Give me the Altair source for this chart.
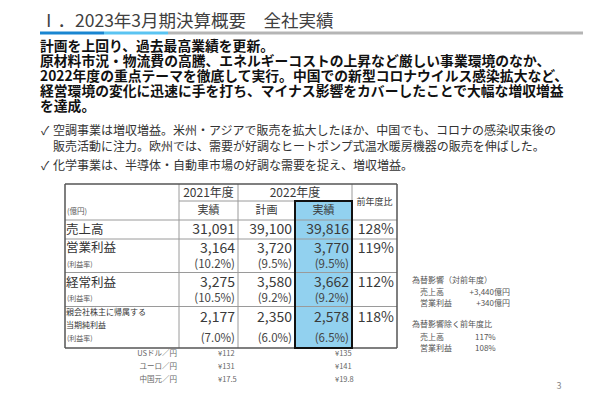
import altair as alt
import pandas as pd

# ---------------- data ----------------
title_text = "Ⅰ．2023年3月期決算概要　全社実績"
summary_lines = [
    "計画を上回り、過去最高業績を更新。",
    "原材料市況・物流費の高騰、エネルギーコストの上昇など厳しい事業環境のなか、",
    "2022年度の重点テーマを徹底して実行。中国での新型コロナウイルス感染拡大など、",
    "経営環境の変化に迅速に手を打ち、マイナス影響をカバーしたことで大幅な増収増益",
    "を達成。",
]
bullet_1 = [
    "空調事業は増収増益。米州・アジアで販売を拡大したほか、中国でも、コロナの感染収束後の",
    "販売活動に注力。欧州では、需要が好調なヒートポンプ式温水暖房機器の販売を伸ばした。",
]
bullet_2 = ["化学事業は、半導体・自動車市場の好調な需要を捉え、増収増益。"]

header_years = ["2021年度", "2022年度"]
header_sub = ["実績", "計画", "実績"]
header_yoy = "前年度比"
unit_label = "(億円)"
metric_labels = [["売上高"], ["営業利益"], ["経常利益"], ["親会社株主に帰属する", "当期純利益"]]
fy2021_actual = [31091, 3164, 3275, 2177]
fy2022_plan = [39100, 3720, 3580, 2350]
fy2022_actual = [39816, 3770, 3662, 2578]
yoy_ratio = ["128%", "119%", "112%", "118%"]
margin_label = "(利益率)"
margin_2021 = ["(10.2%)", "(10.5%)", "(7.0%)"]
margin_plan = ["(9.5%)", "(9.2%)", "(6.0%)"]
margin_actual = ["(9.5%)", "(9.2%)", "(6.5%)"]

fx_labels = ["USドル／円", "ユーロ／円", "中国元／円"]
fx_2021 = ["¥112", "¥131", "¥17.5"]
fx_2022 = ["¥135", "¥141", "¥19.8"]

fx_note_title = "為替影響（対前年度）"
fx_note_items = ["売上高", "営業利益"]
fx_note_values = ["+3,440億円", "+340億円"]
exfx_title = "為替影響除く前年度比"
exfx_values = ["117%", "108%"]
page_no = "3"

# ---------------- layout ----------------
FONT = "Noto Sans CJK JP"
W, H = 584, 384
xs = alt.Scale(domain=[8, 8 + W], nice=False, zero=False)
ys = alt.Scale(domain=[8, 8 + H], nice=False, zero=False, reverse=True)

COL = [65, 179, 238, 295, 352, 397]
ROW = [184, 201, 220, 239, 272.5, 306.5, 348]

texts = []


def add(x, y, t, size, color, weight="normal", align="left"):
    texts.append(dict(x=x, y=y, text=t, size=size, color=color, weight=weight, align=align))


# title
add(40, 21.5, title_text, 17.5, "#404040")
# summary paragraph
for i, s in enumerate(summary_lines):
    add(40, 46.5 + 15 * i, s, 13.8, "#111111", weight="bold")
# bullets
add(41, 131, "✓", 12, "#333333")
for i, s in enumerate(bullet_1):
    add(53, 131 + 16 * i, s, 12, "#333333")
add(41, 166, "✓", 12, "#333333")
add(53, 166, bullet_2[0], 12, "#333333")

# table header
add((COL[1] + COL[2]) / 2, (ROW[0] + ROW[1]) / 2, header_years[0], 12, "#3a3a3a", align="center")
add((COL[2] + COL[4]) / 2, (ROW[0] + ROW[1]) / 2, header_years[1], 12, "#3a3a3a", align="center")
for j, s in enumerate(header_sub):
    add((COL[1 + j] + COL[2 + j]) / 2, (ROW[1] + ROW[2]) / 2, s, 11, "#3a3a3a", align="center")
add((COL[4] + COL[5]) / 2, (ROW[0] + ROW[2]) / 2, header_yoy, 9, "#3a3a3a", align="center")
add(COL[0] + 2, (ROW[1] + ROW[2]) / 2 + 1, unit_label, 7.5, "#555555")

# table body
num_y = [(ROW[2] + ROW[3]) / 2, ROW[3] + 10, ROW[4] + 10, ROW[5] + 11]
mar_y = [None, ROW[4] - 8, ROW[5] - 8, ROW[6] - 9]
for i, lab in enumerate(metric_labels):
    if len(lab) == 1:
        add(COL[0] + 1, num_y[i] - (1 if i == 1 else 0), lab[0], 12.5, "#333333")
    else:
        add(COL[0] + 1, ROW[5] + 6, lab[0], 8, "#333333")
        add(COL[0] + 1, ROW[5] + 19, lab[1], 8, "#333333")
    for col, vals in ((2, fy2021_actual), (3, fy2022_plan), (4, fy2022_actual)):
        add(COL[col] - 3, num_y[i], f"{vals[i]:,}", 14, "#3a3a3a", align="right")
    add(COL[5] - 3, num_y[i], yoy_ratio[i], 14, "#3a3a3a", align="right")
    if i > 0:
        add(COL[0] + 2, mar_y[i], margin_label, 7, "#555555")
        for col, vals in ((2, margin_2021), (3, margin_plan), (4, margin_actual)):
            add(COL[col] - 3, mar_y[i], vals[i - 1], 11.5, "#444444", align="right")

# fx rates under table
for i, s in enumerate(fx_labels):
    yy = 354 + 12.8 * i
    add(177, yy, s, 7.5, "#666666", align="right")
    add(218, yy, fx_2021[i], 7.5, "#666666")
    add(335, yy, fx_2022[i], 7.5, "#666666")

# side notes
add(412, 281, fx_note_title, 8, "#555555")
for i, s in enumerate(fx_note_items):
    add(420, 293 + 10.5 * i, s, 8, "#555555")
    add(510, 293 + 10.5 * i, fx_note_values[i], 8, "#555555", align="right")
add(412, 325, exfx_title, 8, "#555555")
for i, s in enumerate(fx_note_items):
    add(420, 338 + 10.5 * i, s, 8, "#555555")
    add(475, 338 + 10.5 * i, exfx_values[i], 8, "#555555")

add(559, 386, page_no, 9, "#888888", align="center")

tdf = pd.DataFrame(texts)

# lines
rules = []


def rule(x, x2, y, y2, color="#9a9a9a", w=1.0):
    rules.append(dict(x=x, x2=x2, y=y, y2=y2, color=color, w=w))


for yy in (ROW[2], ROW[3], ROW[4], ROW[5]):
    rule(COL[0], COL[5], yy, yy)
rule(COL[1], COL[4], ROW[1], ROW[1])
rule(COL[1], COL[1], ROW[0], ROW[6])
rule(COL[2], COL[2], ROW[0], ROW[6])
rule(COL[3], COL[3], ROW[1], ROW[6])
rule(COL[4], COL[4], ROW[0], ROW[6])
outer = "#555555"
rule(COL[0], COL[5], ROW[0], ROW[0], outer, 1.5)
rule(COL[0], COL[5], ROW[6], ROW[6], outer, 1.5)
rule(COL[0], COL[0], ROW[0], ROW[6], outer, 1.5)
rule(COL[5], COL[5], ROW[0], ROW[6], outer, 1.5)
rdf = pd.DataFrame(rules)

bands = pd.DataFrame(
    dict(
        x=[40, 104, 168],
        x2=[104, 168, 583],
        y=[31.5] * 3,
        y2=[34.5] * 3,
        color=["#1a86d1", "#5ac4f2", "#b5b5b5"],
    )
)
highlight = pd.DataFrame(dict(x=[COL[3]], x2=[COL[4]], y=[ROW[1]], y2=[ROW[6]]))

X = alt.X("x:Q", scale=xs, axis=None)
Y = alt.Y("y:Q", scale=ys, axis=None)

band_layer = alt.Chart(bands).mark_rect().encode(
    x=X, x2="x2:Q", y=Y, y2="y2:Q", color=alt.Color("color:N", scale=None)
)
hl_fill = alt.Chart(highlight).mark_rect(color="#92d1ef").encode(x=X, x2="x2:Q", y=Y, y2="y2:Q")
rule_layer = alt.Chart(rdf).mark_rule().encode(
    x=X, x2="x2:Q", y=Y, y2="y2:Q",
    color=alt.Color("color:N", scale=None),
    strokeWidth=alt.StrokeWidth("w:Q", scale=None),
)
hl_box = alt.Chart(highlight).mark_rect(fillOpacity=0, stroke="#111111", strokeWidth=2).encode(
    x=X, x2="x2:Q", y=Y, y2="y2:Q"
)

layers = [band_layer, hl_fill, rule_layer, hl_box]
for (weight, align), g in tdf.groupby(["weight", "align"]):
    layers.append(
        alt.Chart(g).mark_text(align=align, baseline="middle", font=FONT, fontWeight=weight).encode(
            x=X, y=Y, text="text:N",
            size=alt.Size("size:Q", scale=None),
            color=alt.Color("color:N", scale=None),
        )
    )

chart = (
    alt.layer(*layers)
    .properties(width=W, height=H, padding=0, autosize="none", background="white")
    .configure_view(stroke=None)
)
chart.save("out.html", embed_options={"renderer": "svg", "actions": False})
